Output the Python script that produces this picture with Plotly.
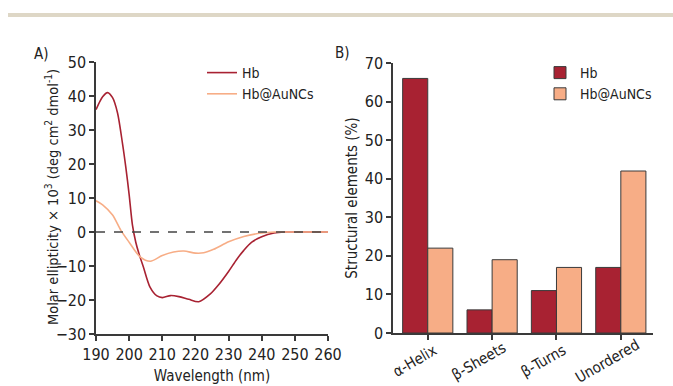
import plotly.graph_objects as go

# ---- Panel A: CD spectra ----
wl_hb = [190, 192, 193.5, 195, 196.5, 198, 199, 200, 201, 202, 203, 204.3, 206.3, 208.4, 210, 212.5, 215, 218, 221, 224.5, 227, 230, 232.5, 234.6, 237, 240, 243.7, 247, 250, 255, 260]
cd_hb = [36, 39.8, 41, 39.5, 35, 26, 19, 11, 2, -3, -6.5, -10.3, -16.2, -18.8, -19.3, -18.7, -19.0, -19.8, -20.5, -18.2, -15.5, -11.6, -8.0, -5.4, -3.0, -1.4, -0.3, 0, 0, 0, 0]

wl_au = [190, 192, 195, 197.5, 200, 203.3, 206.4, 210, 213.4, 216.5, 220, 222.5, 225.5, 230, 234.6, 240, 244, 250, 255, 260]
cd_au = [9.2, 8.0, 5.0, 0.5, -3.0, -7.3, -8.6, -6.9, -5.9, -5.6, -6.2, -6.1, -5.1, -2.9, -1.3, -0.3, 0, 0, 0, 0]

# ---- Panel B: secondary structure ----
categories = ["α-Helix", "β-Sheets", "β-Turns", "Unordered"]
pct_hb = [66, 6, 11, 17]
pct_au = [22, 19, 17, 42]

RED = "#a82232"
ORANGE = "#f7ad86"
AX = "#3a3a3a"
FONT = "DejaVu Sans Condensed, Liberation Sans Narrow, Roboto, sans-serif"

fig = go.Figure()

fig.add_trace(go.Scatter(x=wl_hb, y=cd_hb, mode="lines", name="Hb",
                         line=dict(color=RED, width=1.6, shape="spline", smoothing=0.8),
                         xaxis="x", yaxis="y", legend="legend"))
fig.add_trace(go.Scatter(x=wl_au, y=cd_au, mode="lines", name="Hb@AuNCs",
                         line=dict(color=ORANGE, width=1.6, shape="spline", smoothing=0.8),
                         xaxis="x", yaxis="y", legend="legend"))

fig.add_trace(go.Bar(x=categories, y=pct_hb, name="Hb", marker=dict(color=RED, line=dict(color=AX, width=1)),
                     xaxis="x2", yaxis="y2", legend="legend2"))
fig.add_trace(go.Bar(x=categories, y=pct_au, name="Hb@AuNCs", marker=dict(color=ORANGE, line=dict(color=AX, width=1)),
                     xaxis="x2", yaxis="y2", legend="legend2"))

W, H = 673, 386
def px_x(p): return p / W
def px_y(p): return (H - p) / H

TICKF = dict(family=FONT, size=16, color="#222")
TITLEF = dict(family=FONT, size=15, color="#222")
axis_common = dict(showline=True, linecolor=AX, linewidth=1.5, ticks="outside", ticklen=5,
                   tickwidth=1.5, tickcolor=AX, showgrid=False, zeroline=False,
                   automargin=False, tickfont=TICKF)

annotations = [
    dict(text="A)", xref="paper", yref="paper", x=px_x(41), y=px_y(54), xanchor="center", yanchor="middle",
         showarrow=False, font=dict(family=FONT, size=15, color="#222")),
    dict(text="B)", xref="paper", yref="paper", x=px_x(342), y=px_y(53), xanchor="center", yanchor="middle",
         showarrow=False, font=dict(family=FONT, size=15, color="#222")),
    dict(text="Molar ellipticity × 10<sup>3</sup> (deg cm<sup>2</sup> dmol<sup>-1</sup>)",
         xref="paper", yref="paper", x=px_x(52), y=px_y(197), xanchor="center", yanchor="middle",
         textangle=-90, showarrow=False, font=dict(family=FONT, size=14.5, color="#222")),
]
for c in categories:
    annotations.append(dict(text=c, xref="x2", yref="paper", x=c, y=px_y(361), xanchor="center",
                            yanchor="middle", xshift=-13, textangle=-30, showarrow=False,
                            font=dict(family=FONT, size=15, color="#222")))

fig.update_layout(
    width=W, height=H, margin=dict(l=0, r=0, t=0, b=0, autoexpand=False),
    paper_bgcolor="white", plot_bgcolor="white",
    font=dict(family=FONT, color="#222"),
    barmode="group", bargap=0.22, bargroupgap=0,
    xaxis=dict(domain=[px_x(96), px_x(328)], range=[190, 260], dtick=10, anchor="y",
               title=dict(text="Wavelength (nm)", font=TITLEF, standoff=8),
               **axis_common),
    yaxis=dict(domain=[px_y(334), px_y(62)], range=[-30, 50], dtick=10, anchor="x",
               **axis_common),
    xaxis2=dict(domain=[px_x(393), px_x(653)], range=[-0.54, 3.5], anchor="y2",
                showticklabels=False, **axis_common),
    yaxis2=dict(domain=[px_y(333), px_y(63)], range=[0, 70], dtick=10, anchor="x2",
                title=dict(text="Structural elements (%)", font=TITLEF, standoff=3),
                **axis_common),
    legend=dict(x=px_x(202), y=px_y(57), xanchor="left", yanchor="top", bgcolor="rgba(0,0,0,0)",
                font=dict(family=FONT, size=14, color="#222"), tracegroupgap=0, itemwidth=30),
    legend2=dict(x=px_x(540), y=px_y(57), xanchor="left", yanchor="top", bgcolor="rgba(0,0,0,0)",
                 font=dict(family=FONT, size=14, color="#222"), tracegroupgap=0),
    shapes=[
        dict(type="rect", xref="paper", yref="paper", x0=px_x(8), x1=1.0, y0=px_y(17), y1=px_y(13),
             fillcolor="#ded7c6", line=dict(width=0), layer="below"),
        dict(type="line", xref="x domain", yref="y", x0=0, x1=1, y0=0, y1=0,
             line=dict(color="#444", width=1.3, dash="dash")),
    ],
    annotations=annotations,
)

fig.write_html("out.html")
